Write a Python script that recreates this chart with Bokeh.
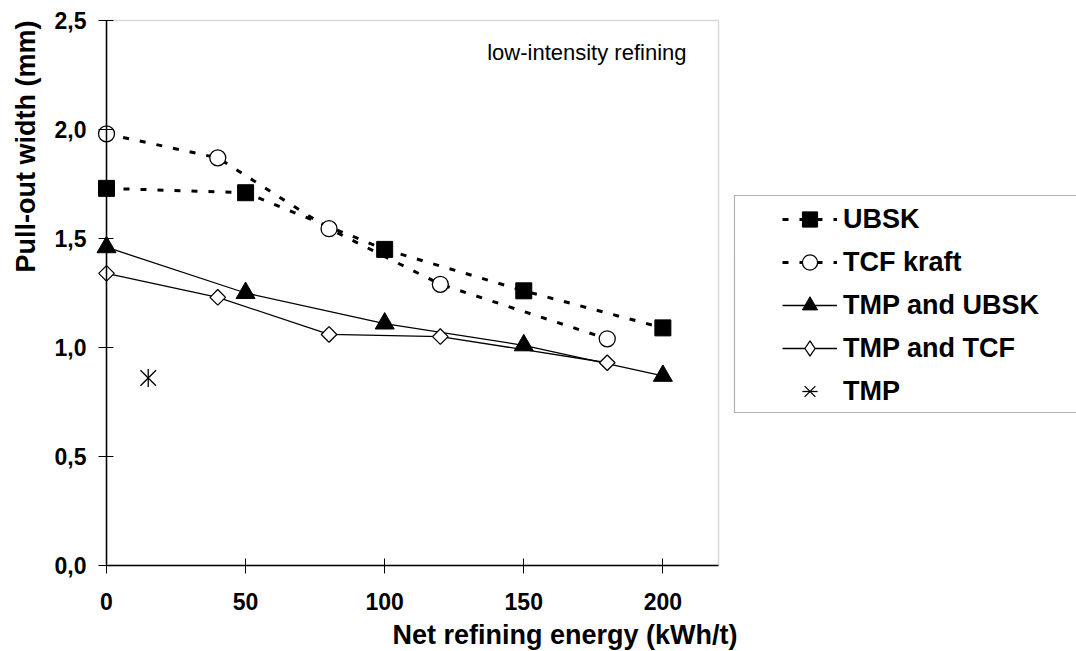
import math
from bokeh.plotting import figure
from bokeh.models import (FixedTicker, Label, Legend, LegendItem, BoxAnnotation, Range1d)
from bokeh.embed import file_html
from bokeh.resources import INLINE

# ---- data ----
energy_ubsk = [0, 50, 100, 150, 200]
ubsk = [1.73, 1.71, 1.45, 1.26, 1.09]
energy_tcf = [0, 40, 80, 120, 180]
tcf_kraft = [1.98, 1.87, 1.545, 1.29, 1.04]
energy_tmp_ubsk = [0, 50, 100, 150, 200]
tmp_ubsk = [1.46, 1.25, 1.11, 1.01, 0.87]
energy_tmp_tcf = [0, 40, 80, 120, 180]
tmp_tcf = [1.34, 1.23, 1.06, 1.05, 0.93]
energy_tmp = [15]
tmp = [0.86]

x_ticks = [0, 50, 100, 150, 200]
x_tick_labels = ["0", "50", "100", "150", "200"]
y_ticks = [0, 0.5, 1.0, 1.5, 2.0, 2.5]
y_tick_labels = ["0,0", "0,5", "1,0", "1,5", "2,0", "2,5"]
series_names = ["UBSK", "TCF kraft", "TMP and UBSK", "TMP and TCF", "TMP"]
x_title = "Net refining energy (kWh/t)"
y_title = "Pull-out width (mm)"
note = "low-intensity refining"

# axis extents of the chart box
X_MAX = 220
Y_MAX = 2.5

FONT = "Liberation Sans"

# layout (pixels on the 1076 x 651 canvas)
W, H = 1076, 651
X0_PX = 106            # x = 0
XMAX_PX = 718          # x = X_MAX
Y0_PX = 565            # y = 0
YMAX_PX = 20           # y = Y_MAX
px_per_x = (XMAX_PX - X0_PX) / X_MAX
px_per_y = (Y0_PX - YMAX_PX) / Y_MAX
BASE_FIX = 7           # baseline correction of rendered labels


def dx(px):
    return (px - X0_PX) / px_per_x


def dy(py):
    return (Y0_PX - py) / px_per_y


p = figure(width=W, height=H, output_backend="svg", toolbar_location=None,
           x_range=Range1d(dx(0), dx(W)), y_range=Range1d(dy(H), dy(0)),
           min_border=0, min_border_left=0, min_border_right=0, min_border_top=0,
           min_border_bottom=0, background_fill_color="white",
           border_fill_color="white")

p.xgrid.visible = False
p.ygrid.visible = False
p.outline_line_color = None

p.xaxis.ticker = FixedTicker(ticks=x_ticks)
p.yaxis.ticker = FixedTicker(ticks=y_ticks)
p.xaxis.major_label_overrides = {t: l for t, l in zip(x_ticks, x_tick_labels)}
p.yaxis.major_label_overrides = {t: l for t, l in zip(y_ticks, y_tick_labels)}
p.xaxis.bounds = (0, X_MAX)
p.yaxis.bounds = (0, Y_MAX)
p.xaxis.fixed_location = 0
p.yaxis.fixed_location = 0
for ax in (p.xaxis[0], p.yaxis[0]):
    ax.axis_line_color = "black"
    ax.axis_line_width = 1.5
    ax.major_tick_line_color = "black"
    ax.major_tick_line_width = 1
    ax.minor_tick_line_color = None
    ax.major_label_text_font = FONT
    ax.major_label_text_font_style = "bold"
    ax.major_label_text_font_size = "23px"
    ax.major_label_text_color = "black"
p.xaxis.major_tick_in = 7
p.xaxis.major_tick_out = 8
p.xaxis.major_label_standoff = 19
p.yaxis.major_tick_in = 7
p.yaxis.major_tick_out = 8
p.yaxis.major_label_standoff = 12

# gray chart box (top and right edges; left/bottom covered by the axes)
p.add_layout(BoxAnnotation(left=0, right=X_MAX, bottom=0, top=Y_MAX, fill_alpha=0,
                           line_color="#808080", line_width=1.5, level="underlay",
                           editable=False))

# ---- series ----
l_ubsk = p.line(energy_ubsk, ubsk, line_color="black", line_width=3, line_dash="6 11")
m_ubsk = p.scatter(energy_ubsk, ubsk, marker="square", size=16, fill_color="black",
                   line_color="black")
l_tcf = p.line(energy_tcf, tcf_kraft, line_color="black", line_width=3, line_dash="6 11")
m_tcf = p.scatter(energy_tcf, tcf_kraft, marker="circle", size=16, fill_color="white",
                  line_color="black", line_width=1.3)
l_tu = p.line(energy_tmp_ubsk, tmp_ubsk, line_color="black", line_width=1.3)
m_tu = p.scatter(energy_tmp_ubsk, tmp_ubsk, marker="triangle", size=19,
                 fill_color="black", line_color="black")
l_tt = p.line(energy_tmp_tcf, tmp_tcf, line_color="black", line_width=1.3)
# narrow diamond (used by the legend, hidden under the open diamonds below)
m_tt_key = p.scatter(energy_tmp_tcf, tmp_tcf, marker="diamond", size=13,
                     fill_color="white", line_color="black", line_width=1.3)
m_tt = p.scatter(energy_tmp_tcf, tmp_tcf, marker="square", angle=math.pi / 4, size=11,
                 fill_color="white", line_color="black", line_width=1.3)
m_tmp_x = p.scatter(energy_tmp, tmp, marker="x", size=22, line_color="black",
                    line_width=1.3)
m_tmp_v = p.scatter(energy_tmp, tmp, marker="dash", angle=math.pi / 2, size=18,
                    line_color="black", line_width=1.3)

# ---- annotations ----
p.add_layout(Label(x=dx(686), y=dy(59 - BASE_FIX), text=note, text_align="right",
                   text_baseline="alphabetic", text_font=FONT, text_font_size="22px",
                   text_color="black"))
p.add_layout(Label(x=dx(392), y=dy(641 - BASE_FIX), text=x_title, text_align="left",
                   text_baseline="alphabetic", text_font=FONT, text_font_style="bold",
                   text_font_size="27px", text_color="black"))
p.add_layout(Label(x=dx(32 - BASE_FIX), y=dy(272), text=y_title, angle=math.pi / 2,
                   text_align="left", text_baseline="alphabetic", text_font=FONT,
                   text_font_style="bold", text_font_size="27px", text_color="black"))

# legend box (runs off the right edge, as in the original)
p.add_layout(BoxAnnotation(left=dx(734), right=dx(W + 40), bottom=dy(412), top=dy(195),
                           fill_color="white", fill_alpha=1, line_color="black",
                           line_width=1.2, editable=False))

ROW_H, ROW_GAP = 38, 5
leg_top = 219 - ROW_H / 2
leg_bottom = leg_top + 5 * ROW_H + 4 * ROW_GAP
legend = Legend(items=[
    LegendItem(label=series_names[0], renderers=[l_ubsk, m_ubsk]),
    LegendItem(label=series_names[1], renderers=[l_tcf, m_tcf]),
    LegendItem(label=series_names[2], renderers=[l_tu, m_tu]),
    LegendItem(label=series_names[3], renderers=[l_tt, m_tt_key]),
    LegendItem(label=series_names[4], renderers=[m_tmp_x, m_tmp_v]),
], location=(782, H - leg_bottom), orientation="vertical", padding=0,
    margin=0, border_line_alpha=0, background_fill_alpha=0, glyph_width=55,
    glyph_height=ROW_H, label_height=ROW_H, spacing=ROW_GAP, label_standoff=6,
    label_text_font=FONT, label_text_font_style="bold", label_text_font_size="27px",
    label_text_color="black")
p.add_layout(legend)

open("out.html", "w").write(file_html(p, INLINE))
